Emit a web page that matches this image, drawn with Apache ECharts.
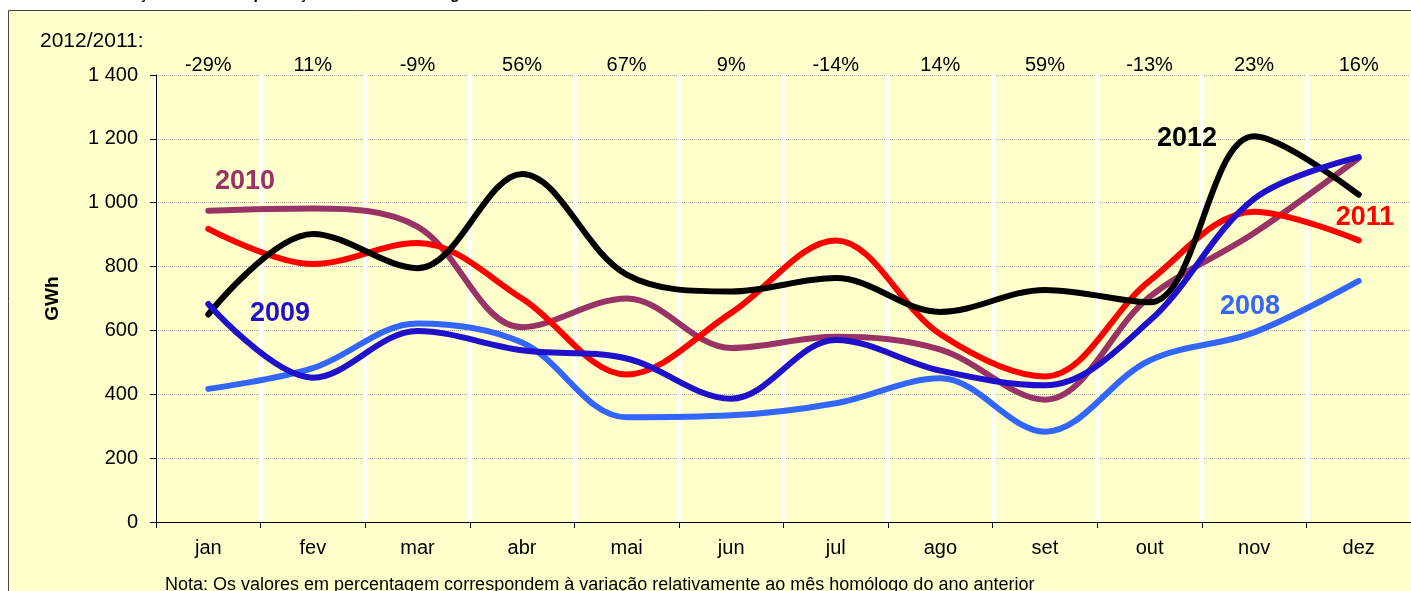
<!DOCTYPE html>
<html>
<head>
<meta charset="utf-8">
<script src="https://cdn.jsdelivr.net/npm/echarts@6/dist/echarts.min.js"></script>
<style>
  html, body { margin: 0; padding: 0; background: #ffffff; }
  #chart { width: 1411px; height: 591px; }
</style>
</head>
<body>
<div id="chart"></div>
<script>
// meses e variação 2012/2011
var months = ['jan', 'fev', 'mar', 'abr', 'mai', 'jun', 'jul', 'ago', 'set', 'out', 'nov', 'dez'];
var variation = ['-29%', '11%', '-9%', '56%', '67%', '9%', '-14%', '14%', '59%', '-13%', '23%', '16%'];

// produção eólica mensal (GWh)
var y2008 = [417, 482, 622, 562, 328, 334, 372, 450, 283, 506, 594, 755];
var y2009 = [683, 452, 598, 538, 512, 386, 570, 474, 428, 630, 1012, 1143];
var y2010 = [975, 982, 925, 610, 700, 545, 580, 540, 383, 705, 905, 1140];
var y2011 = [918, 808, 874, 700, 462, 655, 882, 588, 456, 755, 972, 882];
var y2012 = [650, 902, 795, 1090, 775, 722, 764, 658, 727, 688, 1208, 1025];

var chart = echarts.init(document.getElementById('chart'));

function lineSeries(name, data, color, z) {
  return {
    name: name,
    type: 'line',
    data: data,
    smooth: 0.35,
    symbol: 'none',
    z: z,
    lineStyle: { color: color, width: 6, cap: 'round' }
  };
}

var fam = '"Liberation Sans", Arial, sans-serif';
var labelFont = 'bold 27px ' + fam;

var option = {
  animation: false,
  backgroundColor: '#ffffff',
  textStyle: { fontFamily: fam },
  grid: { left: 156, right: 0, top: 75, bottom: 69 },
  xAxis: [{
    type: 'category',
    data: months,
    boundaryGap: true,
    axisLine: { lineStyle: { color: '#000', width: 1 } },
    axisTick: { show: true, length: 6, lineStyle: { color: '#000' } },
    axisLabel: { color: '#000', fontSize: 20, margin: 16 },
    splitLine: { show: true, lineStyle: { color: '#ffffff', width: 4 } }
  }, {
    type: 'category',
    data: variation,
    position: 'top',
    boundaryGap: true,
    axisLine: { show: false },
    axisTick: { show: false },
    axisLabel: { color: '#000', fontSize: 20, margin: 0 }
  }],
  yAxis: {
    type: 'value',
    min: 0,
    max: 1400,
    interval: 200,
    name: 'GWh',
    nameLocation: 'middle',
    nameRotate: 90,
    nameGap: 94,
    nameTextStyle: { color: '#000', fontSize: 19, fontWeight: 'bold' },
    axisLine: { show: true, lineStyle: { color: '#000', width: 1 } },
    axisTick: { show: true, length: 6, lineStyle: { color: '#000' } },
    axisLabel: {
      color: '#000',
      fontSize: 20,
      margin: 18,
      formatter: function (v) {
        return v >= 1000 ? Math.floor(v / 1000) + ' ' + String(v % 1000).padStart(3, '0') : String(v);
      }
    },
    splitLine: { show: true, lineStyle: { color: '#a8a8a8', width: 1, type: 'dotted' } }
  },
  graphic: [
    {
      type: 'rect', z: -10, silent: true,
      shape: { x: 8.5, y: 10.5, width: 1420, height: 600 },
      style: { fill: '#ffffcc', stroke: '#444', lineWidth: 1 }
    },
    {
      type: 'text', left: 0, top: -13, z: 10,
      style: { text: 'Gráfico 11 – Evolução mensal da produção eólica em Portugal Continental', font: 'bold 16px ' + fam, fill: '#000' }
    },
    {
      type: 'text', left: 40, top: 31,
      style: { text: '2012/2011:', font: '21px ' + fam, fill: '#000' }
    },
    {
      type: 'text', left: 165, top: 576,
      style: { text: 'Nota: Os valores em percentagem correspondem à variação relativamente ao mês homólogo do ano anterior', font: '18px ' + fam, fill: '#000' }
    },
    { type: 'text', x: 245, y: 182, z: 20, style: { text: '2010', font: labelFont, fill: '#993366', textAlign: 'center', textVerticalAlign: 'middle' } },
    { type: 'text', x: 280, y: 314, z: 20, style: { text: '2009', font: labelFont, fill: '#1f10cc', textAlign: 'center', textVerticalAlign: 'middle' } },
    { type: 'text', x: 1187, y: 139, z: 20, style: { text: '2012', font: labelFont, fill: '#000000', textAlign: 'center', textVerticalAlign: 'middle' } },
    { type: 'text', x: 1365, y: 218, z: 20, style: { text: '2011', font: labelFont, fill: '#ff0000', textAlign: 'center', textVerticalAlign: 'middle' } },
    { type: 'text', x: 1250, y: 307, z: 20, style: { text: '2008', font: labelFont, fill: '#3366ff', textAlign: 'center', textVerticalAlign: 'middle' } }
  ],
  series: [
    lineSeries('2008', y2008, '#3366ff', 2),
    lineSeries('2010', y2010, '#993366', 3),
    lineSeries('2011', y2011, '#ff0000', 4),
    lineSeries('2012', y2012, '#000000', 5),
    lineSeries('2009', y2009, '#1f10cc', 6)
  ]
};

chart.setOption(option);
</script>
</body>
</html>
